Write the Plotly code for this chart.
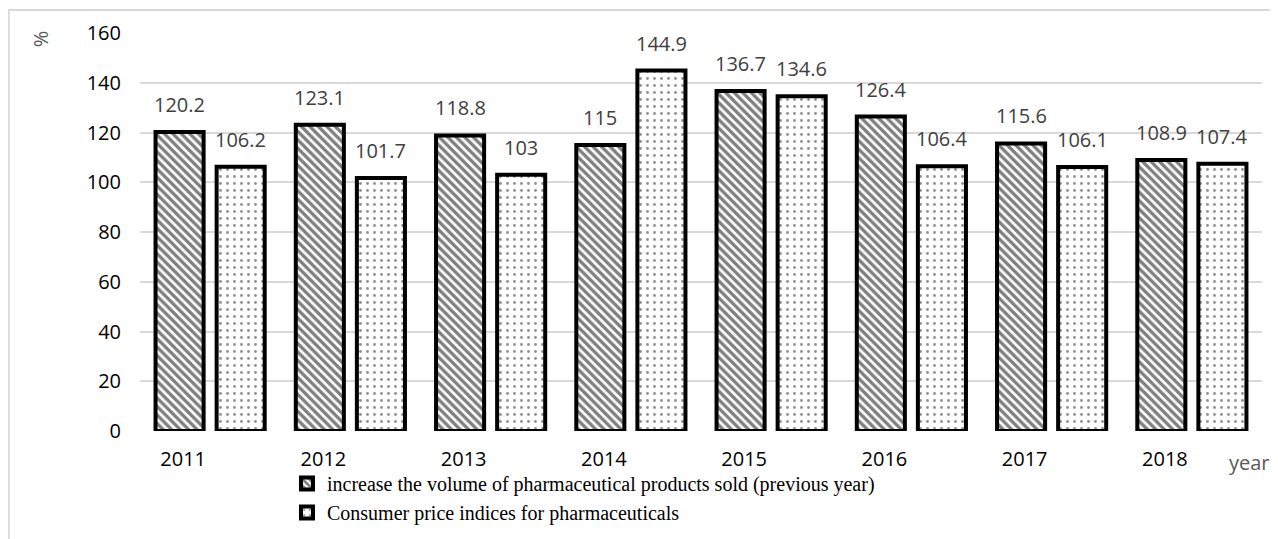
import plotly.graph_objects as go

years = ["2011", "2012", "2013", "2014", "2015", "2016", "2017", "2018"]
volume_increase = [120.2, 123.1, 118.8, 115, 136.7, 126.4, 115.6, 108.9]
price_index = [106.2, 101.7, 103, 144.9, 134.6, 106.4, 106.1, 107.4]
series_names = [
    "increase the volume of pharmaceutical products sold (previous year)",
    "Consumer price indices for pharmaceuticals",
]
y_ticks = [0, 20, 40, 60, 80, 100, 120, 140, 160]

fig = go.Figure()
fig.add_trace(go.Bar(
    x=years, y=volume_increase, name=series_names[0],
    marker=dict(color="white", line=dict(color="black", width=4),
                pattern=dict(shape="\\", fgcolor="black", bgcolor="white",
                             size=6, solidity=0.55, fillmode="overlay")),
))
fig.add_trace(go.Bar(
    x=years, y=price_index, name=series_names[1],
    marker=dict(color="white", line=dict(color="black", width=4),
                pattern=dict(shape=".", fgcolor="#222222", bgcolor="white",
                             size=7, solidity=0.13, fillmode="overlay")),
))

annotations = []
for shift, vals in ((-30.5, volume_increase), (30.5, price_index)):
    for i, v in enumerate(vals):
        annotations.append(dict(
            x=i, y=v, xref="x", yref="y", text=f"{v:g}", showarrow=False,
            xshift=shift, yshift=12, xanchor="center", yanchor="bottom",
            font=dict(family="Open Sans", size=20, color="#404040"),
        ))
annotations.append(dict(x=-0.088, y=0.985, xref="paper", yref="paper", text="%",
                        showarrow=False, textangle=-90, xanchor="center", yanchor="middle",
                        font=dict(family="Open Sans", size=20, color="#595959")))
annotations.append(dict(x=0.989, y=-0.078, xref="paper", yref="paper", text="year",
                        showarrow=False, xanchor="center", yanchor="middle",
                        font=dict(family="Open Sans", size=20, color="#595959")))

fig.update_layout(
    width=1270, height=531,
    margin=dict(l=132, r=16, t=25, b=108, autoexpand=False),
    paper_bgcolor="white", plot_bgcolor="white",
    barmode="group", bargap=0.129, bargroupgap=0.213,
    showlegend=True,
    legend=dict(x=0.131, y=-0.083, xanchor="left", yanchor="top",
                font=dict(family="Liberation Serif", size=20, color="black"),
                bgcolor="rgba(0,0,0,0)", tracegroupgap=0),
    annotations=annotations,
    shapes=[dict(type="rect", xref="paper", yref="paper",
                 x0=-0.117, x1=1.05, y0=-0.4, y1=1.0578,
                 line=dict(color="#d9d9d9", width=2), fillcolor="rgba(0,0,0,0)",
                 layer="below")],
)
fig.update_xaxes(type="category", range=[-0.5, len(years) - 0.5],
                 showgrid=False, showline=False, zeroline=False,
                 ticks="", ticklabelshift=-27, ticklabelstandoff=14,
                 tickfont=dict(family="Open Sans", size=20, color="black"))
fig.update_yaxes(range=[0, 160], tickvals=y_ticks, showgrid=True,
                 gridcolor="#d9d9d9", gridwidth=1.5, zeroline=False,
                 showline=False, ticks="", ticklabelstandoff=18,
                 tickfont=dict(family="Open Sans", size=20, color="black"))

fig.write_html("out.html")
